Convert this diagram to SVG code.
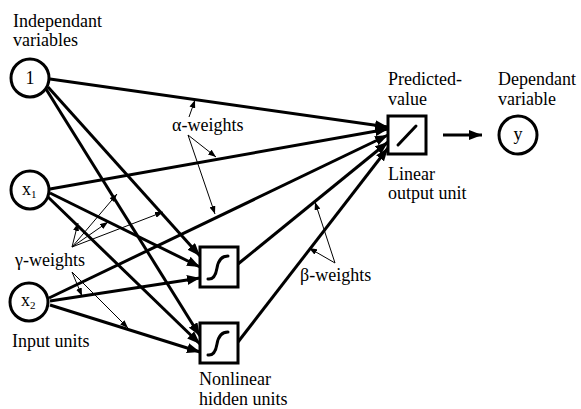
<svg xmlns="http://www.w3.org/2000/svg" width="581" height="409" viewBox="0 0 581 409">
<style>
text{font-size:18px;fill:#000}
.node{fill:#fff;stroke:#000;stroke-width:3}
.thick{stroke:#000;stroke-width:3;fill:none;marker-end:url(#ah)}
.thin{stroke:#000;stroke-width:1;fill:none;marker-end:url(#ahs)}
.glyph{stroke:#000;stroke-width:3;fill:none;stroke-linecap:round}
</style>
<defs>
<marker id="ah" markerUnits="userSpaceOnUse" markerWidth="13" markerHeight="10" refX="13" refY="5" orient="auto">
<path d="M0,0 L13,5 L0,10 z" fill="#000"/>
</marker>
<marker id="ahs" markerUnits="userSpaceOnUse" markerWidth="8" markerHeight="6" refX="8" refY="3" orient="auto">
<path d="M0,0 L8,3 L0,6 z" fill="#000"/>
</marker>
</defs>
<rect width="581" height="409" fill="#fff"/>
<g id="connectors">
<line class="thick" x1="50" y1="79" x2="388" y2="127"/>
<line class="thick" x1="48" y1="87" x2="200" y2="256"/>
<line class="thick" x1="46" y1="89" x2="200" y2="336"/>
<line class="thick" x1="50" y1="189" x2="388" y2="129"/>
<line class="thick" x1="50" y1="193" x2="200" y2="267"/>
<line class="thick" x1="48" y1="197" x2="200" y2="344"/>
<line class="thick" x1="49" y1="298" x2="388" y2="135"/>
<line class="thick" x1="50" y1="301" x2="200" y2="278"/>
<line class="thick" x1="50" y1="305" x2="200" y2="352"/>
<line class="thick" x1="238" y1="264" x2="388" y2="142"/>
<line class="thick" x1="238" y1="342" x2="388" y2="148"/>
<line class="thick" x1="443" y1="135" x2="482" y2="135"/>
</g>
<g id="annotations">
<line class="thin" x1="189" y1="117" x2="195" y2="100"/>
<line class="thin" x1="188" y1="135" x2="216" y2="157"/>
<line class="thin" x1="188" y1="135" x2="215" y2="214"/>
<line class="thin" x1="72" y1="247" x2="117" y2="194"/>
<line class="thin" x1="72" y1="247" x2="108" y2="222"/>
<line class="thin" x1="72" y1="247" x2="163" y2="212"/>
<line class="thin" x1="72" y1="247" x2="78" y2="223"/>
<line class="thin" x1="72" y1="272" x2="82" y2="296"/>
<line class="thin" x1="72" y1="272" x2="128" y2="328"/>
<line class="thin" x1="335" y1="263" x2="315" y2="202"/>
<line class="thin" x1="335" y1="263" x2="309" y2="248"/>
</g>
<g font-family="'Liberation Serif', 'DejaVu Serif', serif">
<g id="n1"><circle class="node" cx="30" cy="78" r="19"/><text x="30" y="84" text-anchor="middle">1</text></g>
<g id="nx1"><circle class="node" cx="30" cy="190" r="19"/><text x="22" y="195">x<tspan font-size="11" dy="3">1</tspan></text></g>
<g id="nx2"><circle class="node" cx="29" cy="302" r="19"/><text x="21" y="306">x<tspan font-size="11" dy="3">2</tspan></text></g>
<g id="h1"><rect class="node" x="200" y="247" width="38" height="40"/><path class="glyph" d="M208,279 Q215,280 217,268 Q219,256 228,256"/></g>
<g id="h2"><rect class="node" x="200" y="323" width="38" height="40"/><path class="glyph" d="M208,355 Q215,356 217,344 Q219,332 228,332"/></g>
<g id="out"><rect class="node" x="388" y="116" width="38" height="38"/><line class="glyph" x1="398" y1="145" x2="416" y2="126"/></g>
<g id="ny"><circle class="node" cx="518" cy="135" r="19"/><text x="518" y="140" text-anchor="middle">y</text></g>
<g id="labels">
<text x="13" y="27">Independant</text>
<text x="13" y="46">variables</text>
<text x="172" y="131">α-weights</text>
<text x="15" y="266">γ-weights</text>
<text x="300" y="281">β-weights</text>
<text x="12" y="347">Input units</text>
<text x="199" y="385" font-size="17">Nonlinear</text>
<text x="199" y="405" font-size="17">hidden units</text>
<text x="388" y="85">Predicted-</text>
<text x="388" y="105">value</text>
<text x="498" y="85">Dependant</text>
<text x="498" y="105">variable</text>
<text x="388" y="180">Linear</text>
<text x="388" y="199">output unit</text>
</g>
</g>
</svg>
